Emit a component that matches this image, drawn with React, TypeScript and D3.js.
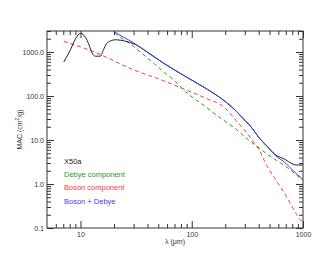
import React, { useEffect, useRef } from 'react';
import * as d3 from 'd3';

// measured MAC spectrum of X50a
const dataLambda = [7.08, 8.13, 9.02, 10, 11.1, 11.9, 12.7, 13.6, 15.1, 16.1, 17.1, 18.6, 20.6, 25.3, 31, 42.4, 55.5, 87.5, 132, 200, 245, 300, 335, 411, 480, 561, 697, 792, 880, 1000];
const dataMac = [593, 1128, 2000, 2650, 2150, 1466, 949, 803, 803, 1128, 1544, 1778, 1900, 1760, 1487, 900, 562, 279, 152, 75, 48, 28, 21, 10.6, 7, 4.7, 3.56, 2.9, 2.7, 2.7];

// Debye component
const debyeLambda = [18.5, 19.6, 29.9, 55.5, 71, 87.5, 132, 173, 254, 321, 385, 486, 597, 733, 1000];
const debyeMac = [3600, 3047, 1340, 362, 215, 127, 58, 34.4, 17.1, 10.2, 7.2, 4.6, 3.27, 2.3, 1.18];

// Boson component
const bosonLambda = [7.08, 12.9, 29.9, 55.5, 87.5, 132, 200, 254, 313, 356, 411, 456, 581, 738, 877, 1000];
const bosonMac = [1742, 1032, 396, 223, 139, 90, 53, 26.5, 14.4, 9.3, 5.5, 3.1, 1.15, 0.44, 0.2, 0.13];

// Boson + Debye
const sumLambda = [18.5, 19.8, 29.9, 42.4, 55.5, 87.5, 132, 200, 245, 300, 335, 411, 480, 561, 697, 800, 1000];
const sumMac = [3450, 3000, 1626, 880, 562, 279, 152, 75, 48, 28, 21, 10.6, 7, 4.5, 3.0, 2.1, 1.27];

const xMajor = [10, 100, 1000];
const xMinor = [6, 7, 8, 9, 20, 30, 40, 50, 60, 70, 80, 90, 200, 300, 400, 500, 600, 700, 800, 900];
const yMajor = [0.1, 1, 10, 100, 1000];
const yMinor = [0.2, 0.3, 0.4, 0.5, 0.6, 0.7, 0.8, 0.9, 2, 3, 4, 5, 6, 7, 8, 9, 20, 30, 40, 50, 60, 70, 80, 90, 200, 300, 400, 500, 600, 700, 800, 900, 2000, 3000];

const legendItems = [
  { label: 'X50a', color: '#222' },
  { label: 'Debye component', color: '#2a9a2a' },
  { label: 'Boson component', color: '#f03c3c' },
  { label: 'Boson + Debye', color: '#3c3cf0' }
];

const W = 329;
const H = 263;

export default function App() {
  const svgRef = useRef<SVGSVGElement>(null);

  useEffect(() => {
    if (!svgRef.current) return;
    const svg = d3.select(svgRef.current);
    svg.selectAll('*').remove();

    const margin = { top: 31, right: 26, bottom: 35, left: 47 };
    const width = W - margin.left - margin.right;
    const height = H - margin.top - margin.bottom;
    const font = 'Liberation Sans, Arial, sans-serif';
    const axisColor = '#333';

    const g = svg.append('g')
      .attr('transform', `translate(${margin.left},${margin.top})`);

    const x = d3.scaleLog().domain([5, 1000]).range([0, width]);
    const y = d3.scaleLog().domain([0.1, 3000]).range([height, 0]);

    g.append('clipPath')
      .attr('id', 'plot-clip')
      .append('rect')
      .attr('width', width)
      .attr('height', height);

    // Axes: ticks on all four sides, pointing inward
    const styleAxis = (sel: d3.Selection<SVGGElement, unknown, null, undefined>) => {
      sel.select('.domain').remove();
      sel.selectAll('line').attr('stroke', axisColor).attr('stroke-width', 1);
      sel.selectAll('text')
        .attr('fill', axisColor)
        .attr('font-family', font)
        .attr('font-size', '7px');
    };

    const major = 7;
    const minor = 4;

    g.append('g').attr('transform', `translate(0,${height})`)
      .call(d3.axisBottom(x).tickValues(xMajor).tickSize(-major).tickPadding(4).tickFormat(d3.format('d')))
      .call(styleAxis);
    g.append('g').attr('transform', `translate(0,${height})`)
      .call(d3.axisBottom(x).tickValues(xMinor).tickSize(-minor).tickFormat(() => ''))
      .call(styleAxis);
    g.append('g')
      .call(d3.axisTop(x).tickValues(xMajor).tickSize(-major).tickFormat(() => ''))
      .call(styleAxis);
    g.append('g')
      .call(d3.axisTop(x).tickValues(xMinor).tickSize(-minor).tickFormat(() => ''))
      .call(styleAxis);

    g.append('g')
      .call(d3.axisLeft(y).tickValues(yMajor).tickSize(-major).tickPadding(3).tickFormat(d3.format('.1f')))
      .call(styleAxis);
    g.append('g')
      .call(d3.axisLeft(y).tickValues(yMinor).tickSize(-minor).tickFormat(() => ''))
      .call(styleAxis);
    g.append('g').attr('transform', `translate(${width},0)`)
      .call(d3.axisRight(y).tickValues(yMajor).tickSize(-major).tickFormat(() => ''))
      .call(styleAxis);
    g.append('g').attr('transform', `translate(${width},0)`)
      .call(d3.axisRight(y).tickValues(yMinor).tickSize(-minor).tickFormat(() => ''))
      .call(styleAxis);

    // frame
    g.append('rect')
      .attr('width', width)
      .attr('height', height)
      .attr('fill', 'none')
      .attr('stroke', axisColor)
      .attr('stroke-width', 1);

    // Curves
    const line = d3.line<[number, number]>()
      .x(d => x(d[0]))
      .y(d => y(d[1]))
      .curve(d3.curveMonotoneX);

    const curves = g.append('g').attr('clip-path', 'url(#plot-clip)');

    const zip = (a: number[], b: number[]) => a.map((v, i) => [v, b[i]] as [number, number]);

    curves.append('path')
      .attr('d', line(zip(bosonLambda, bosonMac)))
      .attr('fill', 'none')
      .attr('stroke', legendItems[2].color)
      .attr('stroke-width', 1)
      .attr('stroke-dasharray', '4,3');

    curves.append('path')
      .attr('d', line(zip(debyeLambda, debyeMac)))
      .attr('fill', 'none')
      .attr('stroke', legendItems[1].color)
      .attr('stroke-width', 1)
      .attr('stroke-dasharray', '4,3');

    curves.append('path')
      .attr('d', line(zip(dataLambda, dataMac)))
      .attr('fill', 'none')
      .attr('stroke', legendItems[0].color)
      .attr('stroke-width', 1);

    curves.append('path')
      .attr('d', line(zip(sumLambda, sumMac)))
      .attr('fill', 'none')
      .attr('stroke', legendItems[3].color)
      .attr('stroke-width', 1);

    // Legend
    g.selectAll('.legend')
      .data(legendItems)
      .enter()
      .append('text')
      .attr('class', 'legend')
      .attr('x', 17)
      .attr('y', (_, i) => 132.5 + i * 13.4)
      .attr('fill', d => d.color)
      .attr('font-family', font)
      .attr('font-size', '7.5px')
      .text(d => d.label);

    // Axis titles
    g.append('text')
      .attr('x', width / 2)
      .attr('y', height + 16)
      .attr('text-anchor', 'middle')
      .attr('fill', axisColor)
      .attr('font-family', font)
      .attr('font-size', '7px')
      .text('λ (μm)');

    const yl = g.append('text')
      .attr('transform', `translate(${-25},${height / 2}) rotate(-90)`)
      .attr('text-anchor', 'middle')
      .attr('fill', axisColor)
      .attr('font-family', font)
      .attr('font-size', '7px');
    yl.append('tspan').text('MAC (cm');
    yl.append('tspan').attr('dy', -3).attr('font-size', '5px').text('2');
    yl.append('tspan').attr('dy', 3).text('/g)');
  }, []);

  return (
    <svg
      ref={svgRef}
      width={W}
      height={H}
      style={{ position: 'absolute', left: 0, top: 0, background: '#fff' }}
    />
  );
}
